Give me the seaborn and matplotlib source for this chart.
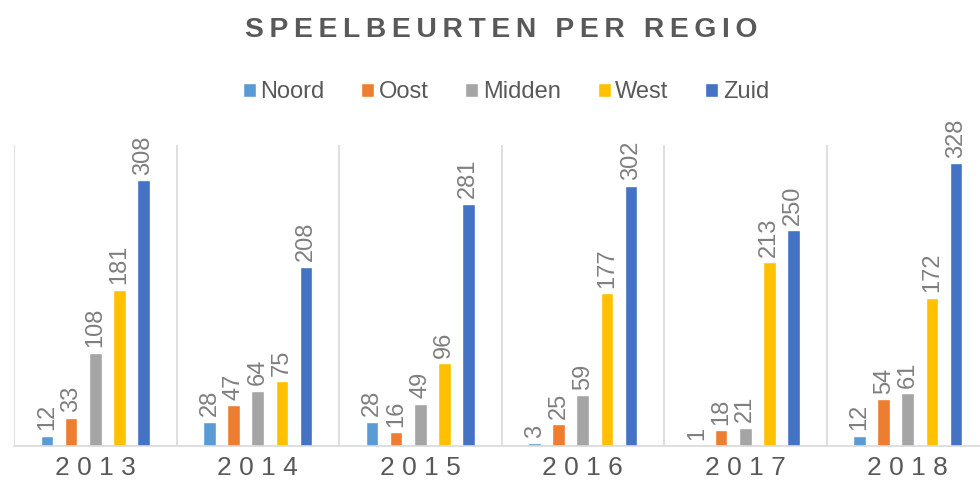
import pandas as pd
import matplotlib.pyplot as plt
import seaborn as sns

# data
jaren = ['2013', '2014', '2015', '2016', '2017', '2018']
regios = ['Noord', 'Oost', 'Midden', 'West', 'Zuid']
noord = [12, 28, 28, 3, 1, 12]
oost = [33, 47, 16, 25, 18, 54]
midden = [108, 64, 49, 59, 21, 61]
west = [181, 75, 96, 177, 213, 172]
zuid = [308, 208, 281, 302, 250, 328]
kleuren = ['#5B9BD5', '#ED7D31', '#A5A5A5', '#FFC000', '#4472C4']

# long table for seaborn
rows = []
for regio, waarden in zip(regios, [noord, oost, midden, west, zuid]):
    for jaar, w in zip(jaren, waarden):
        rows.append({'jaar': jaar, 'regio': regio, 'waarde': w})
df = pd.DataFrame(rows)

sns.set_style('white')
plt.rcParams['font.family'] = ['Liberation Sans', 'DejaVu Sans']

def spaced(s, sep='\u2009'):
    return sep.join(s)

fig = plt.figure(figsize=(9.8, 4.9), dpi=100)
ax = fig.add_axes([14 / 980, 44 / 490, 975 / 980, 301 / 490])

sns.barplot(data=df, x='jaar', y='waarde', hue='regio', order=jaren, hue_order=regios,
            palette=kleuren, width=0.74, gap=0.48, saturation=1, ax=ax)

for cont in ax.containers:
    ax.bar_label(cont, rotation=90, padding=4, fontsize=17, color='#7F7F7F')

ax.set_ylim(0, 349)
ax.set_xlim(-0.5, 5.5)
for x in range(7):
    ax.axvline(x - 0.5, color='#D9D9D9', lw=1.2, zorder=0)

sns.despine(ax=ax, left=True, top=True, right=True)
ax.spines['bottom'].set_color('#D9D9D9')
ax.spines['bottom'].set_linewidth(1.2)
ax.set_yticks([])
ax.set_xlabel('')
ax.set_ylabel('')
ax.set_xticks(range(len(jaren)))
ax.set_xticklabels([spaced(j, ' ') for j in jaren], fontsize=19, color='#595959')
ax.tick_params(axis='x', length=0, pad=7)

ax.legend(loc='center', bbox_to_anchor=(506 / 980, 1 - 92 / 490), bbox_transform=fig.transFigure,
          ncol=5, frameon=False, fontsize=17, labelcolor='#595959',
          handlelength=0.55, handleheight=0.55, handletextpad=0.2, columnspacing=1.55)

fig.text(501 / 980, 1 - 30 / 490, spaced('SPEELBEURTEN PER REGIO', '\u2009'), ha='center', va='center',
         fontsize=20.3, fontweight='bold', color='#595959')

plt.savefig('out.png', dpi=100)
